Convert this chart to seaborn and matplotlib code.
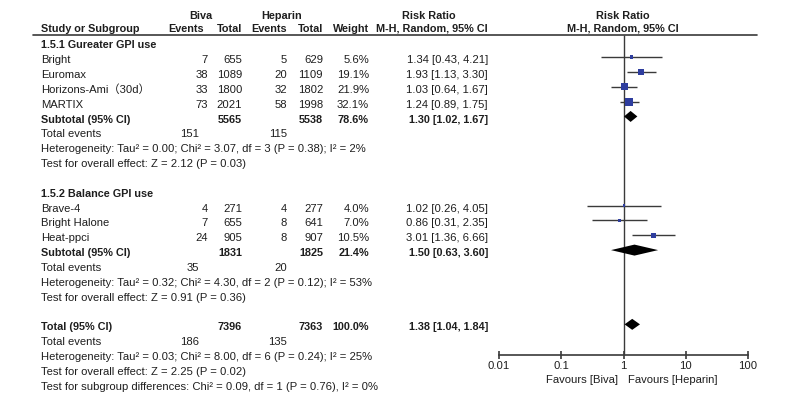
"""
Forest plot: Biva vs Heparin, risk ratio (M-H, random, 95% CI).
"""

import matplotlib
matplotlib.use("Agg")
import matplotlib.pyplot as plt
import numpy as np
import pandas as pd
import seaborn as sns

# --- data -------------------------------------------------------------
g1_label = "1.5.1 Gureater GPI use"
g1_studies = ["Bright", "Euromax", "Horizons-Ami（30d）", "MARTIX"]
g1_biva_events = [7, 38, 33, 73]
g1_biva_total = [655, 1089, 1800, 2021]
g1_hep_events = [5, 20, 32, 58]
g1_hep_total = [629, 1109, 1802, 1998]
g1_weight = [5.6, 19.1, 21.9, 32.1]
g1_rr = [1.34, 1.93, 1.03, 1.24]
g1_lo = [0.43, 1.13, 0.64, 0.89]
g1_hi = [4.21, 3.30, 1.67, 1.75]
g1_subtotal = [5565, 5538, 78.6, 1.30, 1.02, 1.67]
g1_total_events = [151, 115]
g1_het = "Heterogeneity: Tau² = 0.00; Chi² = 3.07, df = 3 (P = 0.38); I² = 2%"
g1_effect = "Test for overall effect: Z = 2.12 (P = 0.03)"

g2_label = "1.5.2 Balance GPI use"
g2_studies = ["Brave-4", "Bright Halone", "Heat-ppci"]
g2_biva_events = [4, 7, 24]
g2_biva_total = [271, 655, 905]
g2_hep_events = [4, 8, 8]
g2_hep_total = [277, 641, 907]
g2_weight = [4.0, 7.0, 10.5]
g2_rr = [1.02, 0.86, 3.01]
g2_lo = [0.26, 0.31, 1.36]
g2_hi = [4.05, 2.35, 6.66]
g2_subtotal = [1831, 1825, 21.4, 1.50, 0.63, 3.60]
g2_total_events = [35, 20]
g2_het = "Heterogeneity: Tau² = 0.32; Chi² = 4.30, df = 2 (P = 0.12); I² = 53%"
g2_effect = "Test for overall effect: Z = 0.91 (P = 0.36)"

total_summary = [7396, 7363, 100.0, 1.38, 1.04, 1.84]
total_events = [186, 135]
total_het = "Heterogeneity: Tau² = 0.03; Chi² = 8.00, df = 6 (P = 0.24); I² = 25%"
total_effect = "Test for overall effect: Z = 2.25 (P = 0.02)"
subgroup_test = "Test for subgroup differences: Chi² = 0.09, df = 1 (P = 0.76), I² = 0%"

axis_ticks = [0.01, 0.1, 1, 10, 100]
axis_ticklabels = ["0.01", "0.1", "1", "10", "100"]
favours_left = "Favours [Biva]"
favours_right = "Favours [Heparin]"

# --- style ------------------------------------------------------------
sns.set_theme(style="white")
plt.rcParams["font.family"] = ["Liberation Sans", "Noto Sans CJK SC", "DejaVu Sans"]

FS = 8.1       # regular text
FS_B = 7.8     # bold text
TXT = "#1e1e1e"
LINE = "#3a3a3a"
BLUE = "#2e3d9e"
ROW0, ROW_H = 44.7, 14.85
MARK_DY = -2.5
X_NAME = 41
X = dict(be=208, bt=242, he=287, ht=323, w=369, rr=488, bev=199)


def row_y(i):
    return ROW0 + i * ROW_H


fig = plt.figure(figsize=(8, 4.01), dpi=100)
ax_t = fig.add_axes([0, 0, 1, 1])
ax_t.set_xlim(0, 800)
ax_t.set_ylim(401, 0)
ax_t.axis("off")

ax_f = fig.add_axes([499 / 800, 0, (748 - 499) / 800, 1])
ax_f.set_xscale("log")
ax_f.set_xlim(0.01, 100)
ax_f.set_ylim(401, 0)
ax_f.patch.set_alpha(0)


def put(x, i, s, ha="left", bold=False, y=None):
    base = row_y(i) + 3.6 if y is None else y
    ax_t.text(x, base, s, ha=ha, va="baseline",
              fontsize=FS_B if bold else FS,
              fontweight="bold" if bold else "normal", color=TXT)


def rr_text(rr, lo, hi):
    return f"{rr:.2f} [{lo:.2f}, {hi:.2f}]"


def diamond(rr, lo, hi, y, h=11):
    ax_f.fill([lo, rr, hi, rr], [y, y - h / 2, y, y + h / 2],
              color="black", lw=0, zorder=4)


# headers
H1, H2 = 18.8, 31.6
put(201, 0, "Biva", ha="center", bold=True, y=H1)
put(282, 0, "Heparin", ha="center", bold=True, y=H1)
put(429, 0, "Risk Ratio", ha="center", bold=True, y=H1)
put(623, 0, "Risk Ratio", ha="center", bold=True, y=H1)
put(X_NAME, 0, "Study or Subgroup", bold=True, y=H2)
put(204, 0, "Events", ha="right", bold=True, y=H2)
put(X["bt"], 0, "Total", ha="right", bold=True, y=H2)
put(X["he"], 0, "Events", ha="right", bold=True, y=H2)
put(X["ht"], 0, "Total", ha="right", bold=True, y=H2)
put(X["w"], 0, "Weight", ha="right", bold=True, y=H2)
put(X["rr"], 0, "M-H, Random, 95% CI", ha="right", bold=True, y=H2)
put(623, 0, "M-H, Random, 95% CI", ha="center", bold=True, y=H2)
ax_t.plot([33, 757], [34.5, 34.5], color=LINE, lw=1.2)

groups = [
    (g1_label, g1_studies, g1_biva_events, g1_biva_total, g1_hep_events, g1_hep_total,
     g1_weight, g1_rr, g1_lo, g1_hi, g1_subtotal, g1_total_events, g1_het, g1_effect),
    (g2_label, g2_studies, g2_biva_events, g2_biva_total, g2_hep_events, g2_hep_total,
     g2_weight, g2_rr, g2_lo, g2_hi, g2_subtotal, g2_total_events, g2_het, g2_effect),
]

study_rows = []
i = 0
for (label, studies, be, bt, he, ht, w, rr, lo, hi, sub, ev, het, eff) in groups:
    put(X_NAME, i, label, bold=True)
    i += 1
    for k, name in enumerate(studies):
        put(X_NAME, i, name)
        put(X["be"], i, str(be[k]), ha="right")
        put(X["bt"], i, str(bt[k]), ha="right")
        put(X["he"], i, str(he[k]), ha="right")
        put(X["ht"], i, str(ht[k]), ha="right")
        put(X["w"], i, f"{w[k]:.1f}%", ha="right")
        put(X["rr"], i, rr_text(rr[k], lo[k], hi[k]), ha="right")
        study_rows.append(dict(rr=rr[k], lo=lo[k], hi=hi[k], weight=w[k],
                               y=row_y(i) + MARK_DY))
        i += 1
    put(X_NAME, i, "Subtotal (95% CI)", bold=True)
    put(X["bt"], i, str(sub[0]), ha="right", bold=True)
    put(X["ht"], i, str(sub[1]), ha="right", bold=True)
    put(X["w"], i, f"{sub[2]:.1f}%", ha="right", bold=True)
    put(X["rr"], i, rr_text(sub[3], sub[4], sub[5]), ha="right", bold=True)
    diamond(sub[3], sub[4], sub[5], row_y(i) + MARK_DY)
    i += 1
    put(X_NAME, i, "Total events")
    put(X["bev"], i, str(ev[0]), ha="right")
    put(X["he"], i, str(ev[1]), ha="right")
    i += 1
    put(X_NAME, i, het)
    i += 1
    put(X_NAME, i, eff)
    i += 2

# overall
put(X_NAME, i, "Total (95% CI)", bold=True)
put(X["bt"], i, str(total_summary[0]), ha="right", bold=True)
put(X["ht"], i, str(total_summary[1]), ha="right", bold=True)
put(X["w"], i, f"{total_summary[2]:.1f}%", ha="right", bold=True)
put(X["rr"], i, rr_text(*total_summary[3:]), ha="right", bold=True)
diamond(*total_summary[3:], row_y(i) + MARK_DY)
i += 1
put(X_NAME, i, "Total events")
put(X["bev"], i, str(total_events[0]), ha="right")
put(X["he"], i, str(total_events[1]), ha="right")
i += 1
put(X_NAME, i, total_het)
i += 1
put(X_NAME, i, total_effect)
i += 1
put(X_NAME, i, subgroup_test)

# forest markers
df = pd.DataFrame(study_rows)
ax_f.hlines(df["y"], df["lo"], df["hi"], color=LINE, lw=1.0, zorder=2)
sns.scatterplot(data=df, x="rr", y="y", size="weight", sizes=(0, 103),
                size_norm=(0, 100), marker="s", color=BLUE, linewidth=0,
                legend=False, ax=ax_f, zorder=3)

AXIS_Y = 355
ax_f.vlines(1, 34.5, AXIS_Y, color=LINE, lw=1.0, zorder=1)
ax_f.set_ylim(401, 0)
ax_f.set_xlabel("")
ax_f.set_ylabel("")
for side in ["top", "left", "right"]:
    ax_f.spines[side].set_visible(False)
ax_f.spines["bottom"].set_position(("data", AXIS_Y))
ax_f.spines["bottom"].set_color(LINE)
ax_f.spines["bottom"].set_linewidth(1.2)
ax_f.set_yticks([])
ax_f.set_xticks(axis_ticks)
ax_f.set_xticklabels(axis_ticklabels)
ax_f.xaxis.set_minor_locator(matplotlib.ticker.NullLocator())
ax_f.tick_params(axis="x", direction="inout", length=6, width=1.2,
                 color=LINE, labelsize=FS, labelcolor=TXT, pad=1.5, bottom=True)

ax_t.text(618, 383, favours_left, ha="right", va="baseline", fontsize=FS, color=TXT)
ax_t.text(628, 383, favours_right, ha="left", va="baseline", fontsize=FS, color=TXT)

fig.savefig("out.png", dpi=100)
plt.close(fig)
